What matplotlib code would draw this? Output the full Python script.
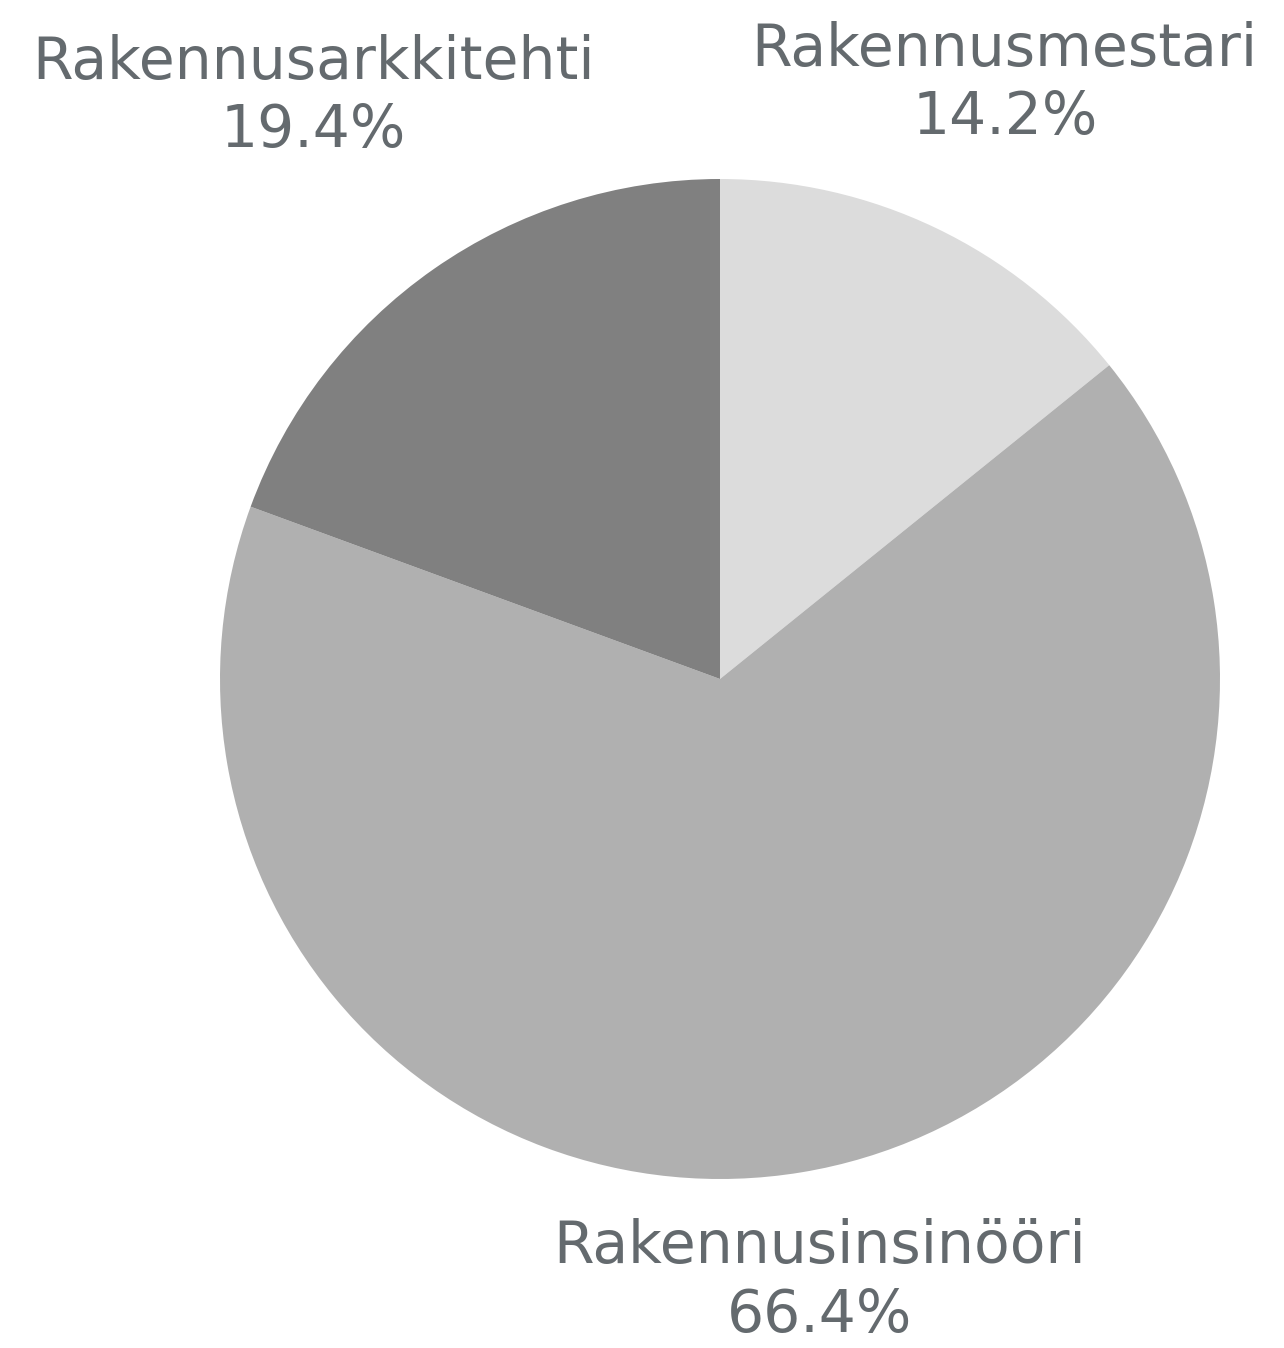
import numpy as np
import matplotlib
matplotlib.use("Agg")
import matplotlib.pyplot as plt

categories = ["Rakennusmestari", "Rakennusinsinööri", "Rakennusarkkitehti"]
values = [14.2, 66.4, 19.4]
colors = ["#dcdcdc", "#b0b0b0", "#808080"]
label_dist = [1.32, 1.22, 1.42]

W, H = 1284, 1348
cx, cy, R = 720, 679, 500
fig = plt.figure(figsize=(W / 100, H / 100), dpi=100)
ax = fig.add_axes([0, 0, 1, 1])

wedges, _ = ax.pie(values, colors=colors, startangle=90, counterclock=False,
                   radius=1, center=(0, 0), frame=True,
                   wedgeprops=dict(linewidth=0))
ax.set_xlim(-cx / R, (W - cx) / R)
ax.set_ylim(-(H - cy) / R, cy / R)
ax.set_aspect("equal")
ax.axis("off")

for w, cat, v, d in zip(wedges, categories, values, label_dist):
    ang = np.deg2rad((w.theta1 + w.theta2) / 2)
    x, y = d * np.cos(ang), d * np.sin(ang)
    ax.text(x, y, f"{cat}\n{v:.1f}%", ha="center", va="center",
            fontsize=42, color="#646a6e", family=["DejaVu Sans"],
            linespacing=1.25)

fig.savefig("out.png", dpi=100)
